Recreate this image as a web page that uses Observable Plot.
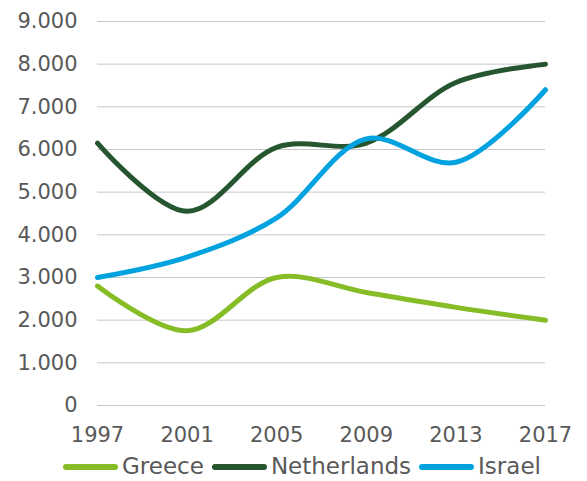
<!DOCTYPE html>
<html>
<head>
<meta charset="utf-8">
<script src="https://cdn.jsdelivr.net/npm/d3@7"></script>
<script src="https://cdn.jsdelivr.net/npm/@observablehq/plot@0.6"></script>
<style>
  html, body { margin: 0; padding: 0; background: #fff; font-family: "DejaVu Sans", Verdana, sans-serif; overflow: hidden; }
  #chart { width: 587px; height: 481px; position: relative; }
  .legend { position: absolute; left: 63px; top: 453px; display: flex; align-items: center; gap: 8px; font-size: 23px; line-height: normal; color: #595959; white-space: nowrap; }
  .item { display: flex; align-items: center; gap: 4px; }
  .sw { width: 55px; height: 6px; border-radius: 3px; margin-top: 2px; }
</style>
</head>
<body>
<div id="chart"></div>
<script>
const years = [1997, 2001, 2005, 2009, 2013, 2017];
const greece = [2800, 1750, 3000, 2650, 2300, 2000];
const netherlands = [6150, 4550, 6050, 6150, 7570, 8000];
const israel = [3000, 3480, 4400, 6250, 5700, 7400];
const seriesNames = ["Greece", "Netherlands", "Israel"];
const seriesColors = ["#86bc25", "#26562f", "#00a3e0"];
const yTicks = [0, 1000, 2000, 3000, 4000, 5000, 6000, 7000, 8000, 9000];
const xTicks = [1997, 2001, 2005, 2009, 2013, 2017];

const values = [greece, netherlands, israel];
const data = [];
seriesNames.forEach((s, i) => years.forEach((y, j) => data.push({series: s, year: y, value: values[i][j]})));

const locale = d3.formatLocale({decimal: ",", thousands: ".", grouping: [3]});
const fmt = locale.format(",");

const plot = Plot.plot({
  width: 587,
  height: 450,
  marginLeft: 97,
  marginRight: 42,
  marginTop: 21,
  marginBottom: 45,
  style: {fontFamily: "DejaVu Sans, Verdana, sans-serif", fontSize: "21px", color: "#595959", background: "#fff"},
  x: {domain: [1997, 2017], ticks: xTicks, tickFormat: d => String(d), tickSize: 0, tickPadding: 20, label: null},
  y: {domain: [0, 9000], ticks: yTicks, tickFormat: fmt, tickSize: 0, tickPadding: 20, label: null},
  color: {domain: seriesNames, range: seriesColors},
  marks: [
    Plot.gridY(yTicks, {stroke: "#c8c8c8", strokeOpacity: 1, strokeWidth: 1}),
    Plot.axisY({ticks: yTicks, tickFormat: fmt, tickSize: 0, tickPadding: 20, fontSize: 21, fill: "#595959", label: null}),
    Plot.axisX({ticks: xTicks, tickFormat: d => String(d), tickSize: 0, tickPadding: 22, fontSize: 21, fill: "#595959", label: null}),
    Plot.line(data, {x: "year", y: "value", z: "series", stroke: "series", strokeWidth: 5, curve: "catmull-rom", strokeLinecap: "round"})
  ]
});
document.getElementById("chart").appendChild(plot);

const legend = document.createElement("div");
legend.className = "legend";
seriesNames.forEach((s, i) => {
  const it = document.createElement("div");
  it.className = "item";
  const sw = document.createElement("div");
  sw.className = "sw";
  sw.style.background = seriesColors[i];
  const t = document.createElement("span");
  t.textContent = s;
  it.appendChild(sw); it.appendChild(t);
  legend.appendChild(it);
});
document.getElementById("chart").appendChild(legend);
</script>
</body>
</html>
